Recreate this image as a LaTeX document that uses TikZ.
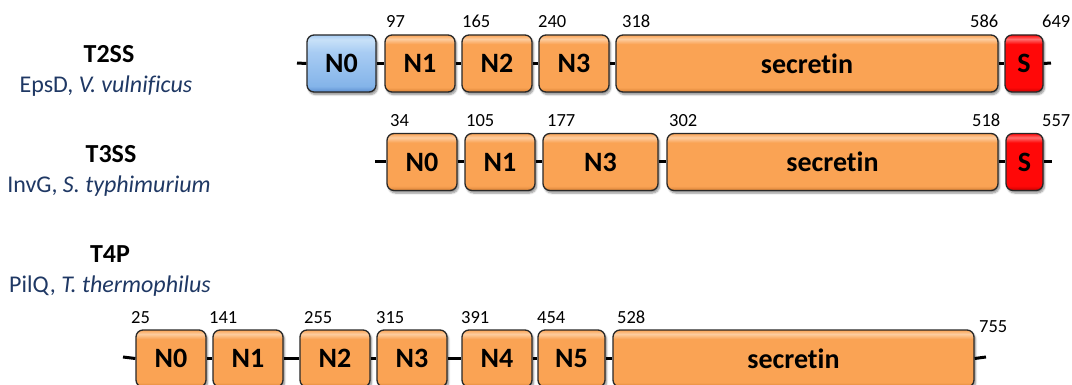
\documentclass[tikz,border=0pt]{standalone}
\usepackage{fontspec}
\setmainfont{Carlito}[Ligatures=NoCommon]
\usetikzlibrary{shadows.blur}

% domain colours
\definecolor{obase}{RGB}{250,163,84}
\definecolor{olt}{RGB}{253,205,160}
\definecolor{odk}{RGB}{215,128,52}
\definecolor{bbase}{RGB}{132,180,233}
\definecolor{btop}{RGB}{168,204,243}
\definecolor{blt}{RGB}{200,225,248}
\definecolor{bdk}{RGB}{92,142,208}
\definecolor{rbase}{RGB}{255,8,8}
\definecolor{rlt}{RGB}{255,110,110}
\definecolor{rdk}{RGB}{200,0,0}
\definecolor{edge}{RGB}{40,40,40}
\definecolor{species}{RGB}{31,56,100}

% bevelled fills: the path covers 25bp..75bp of each shading
\pgfdeclareverticalshading{obevel}{100bp}{color(0bp)=(odk); color(25bp)=(odk); color(29bp)=(obase); color(67bp)=(obase); color(71.5bp)=(olt); color(75bp)=(obase); color(100bp)=(obase)}
\pgfdeclareverticalshading{bbevel}{100bp}{color(0bp)=(bdk); color(25bp)=(bdk); color(30bp)=(bbase); color(60bp)=(btop); color(71bp)=(blt); color(75bp)=(btop); color(100bp)=(btop)}
\pgfdeclareverticalshading{rbevel}{100bp}{color(0bp)=(rdk); color(25bp)=(rdk); color(29bp)=(rbase); color(67bp)=(rbase); color(71.5bp)=(rlt); color(75bp)=(rbase); color(100bp)=(rbase)}

\tikzset{
  dombox/.style={draw=edge, line width=1.3pt, rounded corners=7pt,
    minimum height=57pt, inner sep=0pt, shading angle=0,
    font=\fontsize{28}{32}\selectfont\bfseries,
    blur shadow={shadow xshift=1.5pt, shadow yshift=-2.5pt,
      shadow blur steps=6, shadow opacity=45}},
  orangedom/.style={dombox, shading=obevel},
  bluedom/.style={dombox, shading=bbevel},
  reddom/.style={dombox, shading=rbevel},
  link/.style={line width=3pt, black},
  num/.style={anchor=base west, inner sep=0pt, font=\fontsize{18.5}{22}\selectfont},
  systitle/.style={anchor=base, inner sep=0pt, font=\fontsize{26}{30}\selectfont\bfseries},
  sysname/.style={anchor=base, inner sep=0pt, text=species, font=\fontsize{24}{28}\selectfont},
}

% \protbox{name}{style}{left x}{right x}{centre y}{label}
\newcommand\protbox[6]{%
  \node[#2, minimum width={(#4-#3)*1pt}] (#1) at ({(#3+#4)/2},#5) {#6};}

\begin{document}
\begin{tikzpicture}[x=1pt, y=-1pt]
\useasboundingbox (0,0) rectangle (1072,385);

% ---------- T2SS: EpsD ----------
\node[systitle] (t2) at (109,63) {T2SS};
\node[sysname] (t2s) at (106,93) {EpsD, \textit{V. vulnificus}};
\protbox{a0}{bluedom}{307}{376}{63.5}{N0}
\protbox{a1}{orangedom}{385}{455}{63.5}{N1}
\protbox{a2}{orangedom}{462}{532}{63.5}{N2}
\protbox{a3}{orangedom}{539}{609}{63.5}{N3}
\protbox{as}{orangedom}{616}{998}{63.5}{secretin}
\protbox{aS}{reddom}{1005}{1043}{63.5}{S}
\coordinate (aL) at (297,63);
\coordinate (aR) at (1051,63);
\draw[link] (aL) -- (a0.west);
\draw[link] (a0.east) -- (a1.west);
\draw[link] (a1.east) -- (a2.west);
\draw[link] (a2.east) -- (a3.west);
\draw[link] (a3.east) -- (as.west);
\draw[link] (as.east) -- (aS.west);
\draw[link] (aS.east) -- (aR);
\node[num] (a97) at (386,28) {97};
\node[num] (a165) at (462,28) {165};
\node[num] (a240) at (538,28) {240};
\node[num] (a318) at (622,28) {318};
\node[num] (a586) at (970,28) {586};
\node[num] (a649) at (1042,28) {649};

% ---------- T3SS: InvG ----------
\node[systitle] (t3) at (111,163) {T3SS};
\node[sysname] (t3s) at (109,193) {InvG, \textit{S. typhimurium}};
\protbox{b0}{orangedom}{387}{457}{162}{N0}
\protbox{b1}{orangedom}{465}{535}{162}{N1}
\protbox{b3}{orangedom}{543}{658}{162}{N3}
\protbox{bs}{orangedom}{667}{998}{162}{secretin}
\protbox{bS}{reddom}{1006}{1043}{162}{S}
\coordinate (bL) at (375,162);
\coordinate (bR) at (1052,162);
\draw[link] (bL) -- (b0.west);
\draw[link] (b0.east) -- (b1.west);
\draw[link] (b1.east) -- (b3.west);
\draw[link] (b3.east) -- (bs.west);
\draw[link] (bs.east) -- (bS.west);
\draw[link] (bS.east) -- (bR);
\node[num] (b34) at (390,127) {34};
\node[num] (b105) at (466,127) {105};
\node[num] (b177) at (547,127) {177};
\node[num] (b302) at (669,127) {302};
\node[num] (b518) at (972,127) {518};
\node[num] (b557) at (1042,127) {557};

% ---------- T4P: PilQ ----------
\node[systitle] (t4) at (110,262) {T4P};
\node[sysname] (t4s) at (110,292) {PilQ, \textit{T. thermophilus}};
\protbox{c0}{orangedom}{136}{206}{358.5}{N0}
\protbox{c1}{orangedom}{213}{283}{358.5}{N1}
\protbox{c2}{orangedom}{300}{370}{358.5}{N2}
\protbox{c3}{orangedom}{377}{447}{358.5}{N3}
\protbox{c4}{orangedom}{462}{532}{358.5}{N4}
\protbox{c5}{orangedom}{538}{605}{358.5}{N5}
\protbox{cs}{orangedom}{613}{974}{358.5}{secretin}
\coordinate (cL) at (123,357);
\coordinate (cR) at (986,357);
\draw[link] (cL) -- (c0.west);
\draw[link] (c0.east) -- (c1.west);
\draw[link] (c1.east) -- (c2.west);
\draw[link] (c2.east) -- (c3.west);
\draw[link] (c3.east) -- (c4.west);
\draw[link] (c4.east) -- (c5.west);
\draw[link] (c5.east) -- (cs.west);
\draw[link] (cs.east) -- (cR);
\node[num] (c25) at (131,323) {25};
\node[num] (c141) at (209,323) {141};
\node[num] (c255) at (304,323) {255};
\node[num] (c315) at (376,323) {315};
\node[num] (c391) at (461,323) {391};
\node[num] (c454) at (537,323) {454};
\node[num] (c528) at (617,323) {528};
\node[num] (c755) at (979,332) {755};
\end{tikzpicture}
\end{document}
